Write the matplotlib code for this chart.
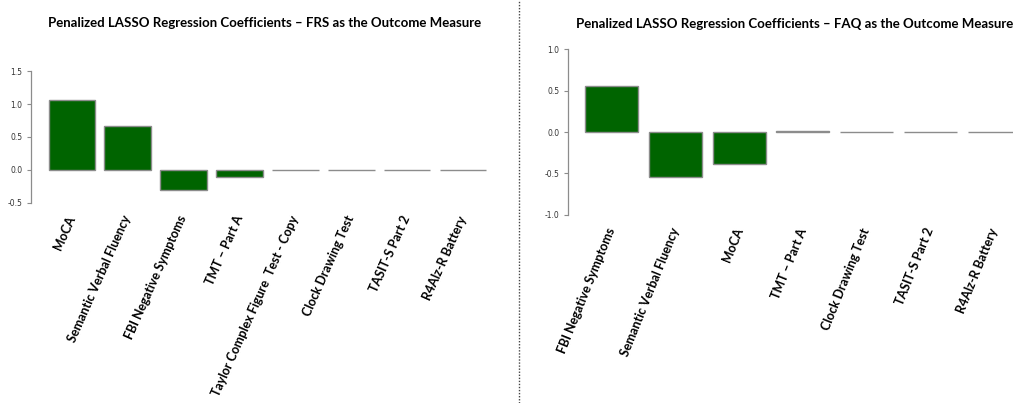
import matplotlib
matplotlib.use("Agg")
import matplotlib.pyplot as plt
from matplotlib.lines import Line2D

# FRS model
frs_labels = ["MoCA", "Semantic Verbal Fluency", "FBI Negative Symptoms",
              "TMT \u2013 Part A", "Taylor Complex Figure  Test - Copy",
              "Clock Drawing Test", "TASIT-S Part 2", "R4Alz-R Battery"]
frs_coef = [1.07, 0.66, -0.31, -0.11, 0.0, 0.0, 0.0, 0.0]
frs_ticks = [-0.5, 0.0, 0.5, 1.0, 1.5]

# FAQ model
faq_labels = ["FBI Negative Symptoms", "Semantic Verbal Fluency", "MoCA",
              "TMT \u2013 Part A", "Clock Drawing Test", "TASIT-S Part 2",
              "R4Alz-R Battery"]
faq_coef = [0.555, -0.54, -0.39, 0.01, 0.0, 0.0, 0.0]
faq_ticks = [-1.0, -0.5, 0.0, 0.5, 1.0]

green = "#006400"
grey = "#8c8c8c"
lab_font = "Lato"


def coef_panel(ax, labels, coef, ticks, rot, pad):
    xs = [0.7 + 1.2 * i for i in range(len(coef))]
    ax.bar(xs, coef, width=1.0, color=green, edgecolor=grey, linewidth=1.0)
    ax.set_xlim(-0.04 * (1.2 * len(coef) - 0.2) + 0.2,
                1.2 * len(coef) + 0.04 * (1.2 * len(coef) - 0.2))
    span = ticks[-1] - ticks[0]
    ax.set_ylim(ticks[0] - 0.04 * span, ticks[-1] + 0.04 * span)
    for s in ["top", "right", "bottom"]:
        ax.spines[s].set_visible(False)
    ax.spines["left"].set_bounds(ticks[0], ticks[-1])
    ax.spines["left"].set_color(grey)
    ax.spines["left"].set_linewidth(0.9)
    ax.set_yticks(ticks)
    ax.set_yticklabels(["%.1f" % t for t in ticks], fontsize=5.5,
                       family="Liberation Sans Narrow", color="#333333")
    ax.tick_params(axis="y", length=3, width=0.8, color=grey, pad=3)
    ax.set_xticks(xs)
    ax.set_xticklabels(labels, rotation=rot, ha="right", va="center",
                       rotation_mode="anchor", fontsize=9.0,
                       fontweight="bold", family=lab_font)
    ax.tick_params(axis="x", length=0, pad=pad)
    ax.set_facecolor("none")


fig = plt.figure(figsize=(10.13, 4.03), dpi=100)

ax1 = fig.add_axes([0.0306, 0.4839, 0.4668, 0.3524])
coef_panel(ax1, frs_labels, frs_coef, frs_ticks, 66, 6)

ax2 = fig.add_axes([0.5606, 0.4501, 0.4641, 0.4447])
coef_panel(ax2, faq_labels, faq_coef, faq_ticks, 68, 5)

fig.text(265 / 1013, 1 - 23 / 403,
         "Penalized LASSO Regression Coefficients \u2013 FRS as the Outcome Measure",
         ha="center", va="center", fontsize=9.5, fontweight="bold", family=lab_font)
fig.text(795 / 1013, 1 - 24 / 403,
         "Penalized LASSO Regression Coefficients \u2013 FAQ as the Outcome Measure",
         ha="center", va="center", fontsize=9.5, fontweight="bold", family=lab_font)

# dotted separator between the two panels
fig.add_artist(Line2D([519 / 1013, 519 / 1013], [0, 1], transform=fig.transFigure,
                      color="#444444", linewidth=1.0, linestyle=(0, (1, 1.2))))

fig.savefig("out.png", dpi=100)
